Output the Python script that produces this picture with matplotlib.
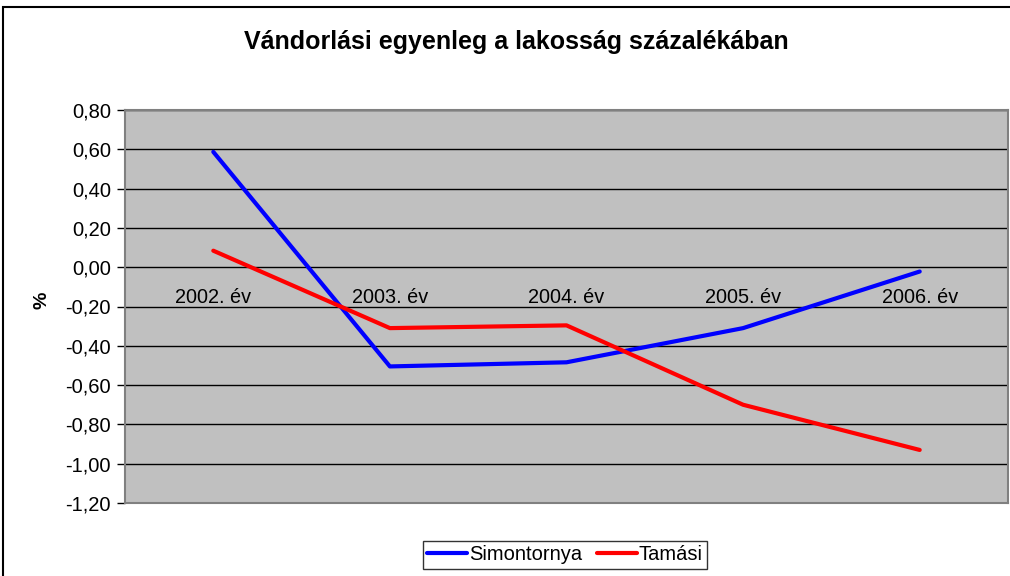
import matplotlib
matplotlib.use("Agg")
import matplotlib.pyplot as plt
from matplotlib.patches import Rectangle
from matplotlib.ticker import FixedLocator, FuncFormatter

plt.rcParams['font.family'] = ['Liberation Sans', 'DejaVu Sans']

categories = ["2002. év", "2003. év", "2004. év", "2005. év", "2006. év"]
simontornya = [0.587, -0.505, -0.484, -0.31, -0.022]
tamasi = [0.084, -0.31, -0.296, -0.70, -0.93]
yticks = [0.8, 0.6, 0.4, 0.2, 0.0, -0.2, -0.4, -0.6, -0.8, -1.0, -1.2]

fig = plt.figure(figsize=(10.1, 5.76), dpi=100)
fig.patch.set_facecolor('white')

# outer chart border
fig.patches.append(Rectangle((3/1010, -0.05), 1.1, 1 - 7/576 + 0.05,
                             transform=fig.transFigure, fill=False,
                             edgecolor='black', linewidth=1.5, zorder=0))

ax = fig.add_axes([125/1010, 1 - 503/576, 883/1010, 393/576])
ax.set_facecolor('#C0C0C0')
x = list(range(len(categories)))
ax.set_xlim(-0.5, len(categories) - 0.5)
ax.set_ylim(-1.2, 0.8)

for v in yticks:
    ax.axhline(v, color='black', linewidth=1.0, zorder=1)

ax.plot(x, simontornya, color='#0000FF', linewidth=3, label='Simontornya', zorder=3,
        solid_capstyle='round')
ax.plot(x, tamasi, color='#FF0000', linewidth=3, label='Tamási', zorder=3,
        solid_capstyle='round')

for sp in ax.spines.values():
    sp.set_color('#808080')
    sp.set_linewidth(1.5)

ax.set_xticks([])
ax.yaxis.set_major_locator(FixedLocator(yticks))
ax.yaxis.set_major_formatter(FuncFormatter(lambda v, p: f"{v:.2f}".replace('.', ',')))
ax.tick_params(axis='y', direction='out', length=6, width=1, color='black',
               labelsize=14.5, pad=4)

for i, c in enumerate(categories):
    ax.annotate(c, xy=(i, 0), xytext=(0, -26), textcoords='offset points',
                ha='center', va='baseline', fontsize=14.3, zorder=4)

fig.text(516/1010, 1 - 42/576, "Vándorlási egyenleg a lakosság százalékában",
         ha='center', va='center', fontsize=18, fontweight='bold')
fig.text(42/1010, 1 - 300/576, "%", rotation=90, ha='center', va='center',
         fontsize=14, fontweight='bold')

leg = fig.legend(loc='center', bbox_to_anchor=(565/1010, 1 - 555/576), ncol=2,
                 fontsize=14.5, frameon=True, fancybox=False, edgecolor='black',
                 handlelength=2.0, handletextpad=0.1, columnspacing=0.7,
                 borderpad=0.2, borderaxespad=0)
leg.get_frame().set_linewidth(1.0)

fig.savefig("out.png", dpi=100)
